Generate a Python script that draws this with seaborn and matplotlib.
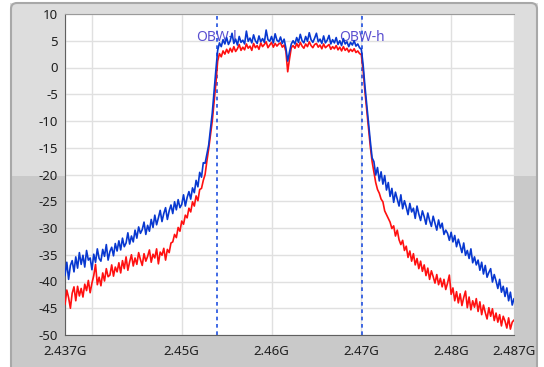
import numpy as np
import pandas as pd
import matplotlib.pyplot as plt
import seaborn as sns
from matplotlib.patches import Rectangle, FancyBboxPatch
from matplotlib.transforms import IdentityTransform

# sweep: 2.437 GHz .. 2.487 GHz, 200 kHz per bin
f_start = 2.437
f_step = 0.0002
n_bins = 251

# trace 1 (blue), dBm
blue_trace = [
    -38.9, -36.4, -39.6, -37.0, -36.1, -38.2, -35.4, -37.5, -34.6, -36.8,
    -35.1, -37.3, -34.2, -36.0, -35.6, -37.8, -34.9, -36.4, -33.9, -35.7,
    -36.2, -34.0, -35.3, -33.1, -36.0, -34.4, -33.6, -35.2, -32.9, -34.3,
    -32.4, -34.1, -31.9, -33.5, -32.8, -30.9, -33.0, -31.5, -32.6, -30.4,
    -31.9, -29.8, -31.0, -30.3, -28.9, -31.2, -29.5, -30.6, -28.4, -29.9,
    -27.6, -29.4, -28.1, -26.7, -28.8, -27.3, -26.2, -28.4, -26.8, -25.7,
    -27.3, -25.1, -26.6, -24.7, -26.2, -25.6, -23.8, -25.9, -24.3, -23.2,
    -24.6, -22.5, -23.4, -21.1, -22.3, -19.6, -20.5, -17.8, -17.9, -16.2,
    -14.5, -11.5, -8.5, -4.5, -0.5, 3.2, 4.6, 3.9, 5.2, 4.4,
    5.6, 4.3, 5.0, 6.4, 4.5, 5.3, 4.2, 5.8, 4.7, 5.1,
    4.4, 6.8, 4.9, 5.5, 4.6, 6.1, 5.0, 4.5, 5.9, 4.8,
    5.4, 4.7, 7.0, 5.2, 4.9, 5.8, 4.6, 6.3, 5.1, 4.8,
    5.7, 4.5, 5.3, 3.6, 1.2, 2.9, 4.4, 5.0, 4.4, 5.6,
    4.7, 6.2, 5.0, 4.6, 5.8, 4.9, 6.5, 5.2, 4.7, 5.5,
    6.4, 4.8, 5.3, 4.5, 5.9, 4.6, 5.1, 6.0, 4.4, 5.2,
    4.6, 5.6, 4.3, 5.0, 4.1, 5.4, 4.4, 4.8, 3.9, 4.7,
    4.2, 5.0, 4.0, 4.4, 3.7, 3.4, 0.5, -3.5, -7.0, -10.5,
    -13.8, -16.9, -17.6, -20.1, -18.7, -21.2, -19.5, -21.8, -20.2, -22.9,
    -21.5, -24.1, -22.6, -25.2, -23.3, -24.6, -25.9, -23.8, -26.4, -24.9,
    -26.1, -27.5, -25.4, -27.0, -26.3, -28.2, -25.9, -27.4, -28.6, -26.8,
    -27.9, -29.3, -27.2, -28.6, -29.7, -27.8, -29.1, -30.4, -28.5, -30.0,
    -29.1, -31.2, -30.4, -31.0, -32.3, -30.8, -32.6, -31.4, -33.5, -32.1,
    -33.3, -34.6, -32.8, -35.1, -34.2, -35.7, -33.9, -36.5, -35.4, -36.9,
    -36.0, -37.9, -36.4, -38.6, -37.0, -39.2, -38.3, -37.6, -40.1, -38.7,
    -39.9, -41.3, -39.6, -42.0, -40.9, -42.8, -41.2, -43.6, -42.0, -44.4, -43.2,
]

# trace 2 (red), dBm
red_trace = [
    -44.3, -41.6, -43.0, -45.0, -42.2, -41.0, -43.6, -40.9, -42.7, -41.3,
    -42.9, -40.5, -41.7, -39.8, -42.1, -40.3, -38.9, -36.8, -40.6, -39.2,
    -40.8, -38.4, -39.9, -37.6, -39.1, -38.8, -36.9, -39.0, -37.3, -38.2,
    -36.5, -38.4, -36.1, -37.6, -35.4, -37.9, -36.3, -35.0, -37.1, -35.6,
    -36.8, -34.6, -35.9, -37.0, -34.8, -36.2, -35.3, -34.1, -36.4, -34.9,
    -35.6, -33.9, -36.7, -34.5, -35.1, -33.8, -36.0, -34.0, -34.6, -32.8,
    -32.6, -31.2, -31.8, -29.9, -30.6, -28.7, -29.3, -27.6, -28.1, -26.3,
    -27.0, -25.1, -25.9, -24.0, -24.9, -22.8, -22.6, -21.1, -20.0, -17.5,
    -15.2, -12.6, -10.0, -6.5, -3.0, 1.2, 2.6, 2.0, 3.1, 2.5,
    3.4, 2.7, 3.6, 2.9, 3.9, 3.0, 3.5, 4.3, 3.2, 3.8,
    3.3, 4.4, 3.6, 4.0, 3.2, 4.5, 3.7, 4.1, 3.4, 4.6,
    3.9, 4.3, 4.8, 3.7, 4.2, 4.7, 3.8, 4.5, 4.0, 4.4,
    4.6, 3.8, 4.2, 3.0, -0.8, 1.6, 3.7, 4.1, 3.6, 4.5,
    3.8, 4.7, 4.0, 3.6, 4.4, 3.9, 4.8, 4.1, 3.7, 4.3,
    4.5, 3.8, 4.2, 3.5, 4.4, 3.7, 4.0, 4.3, 3.4, 3.9,
    3.5, 4.1, 3.3, 3.8, 3.1, 3.9, 3.2, 3.6, 2.9, 3.4,
    3.0, 3.5, 2.8, 3.1, 2.6, 2.4, -0.5, -4.5, -8.0, -11.5,
    -14.8, -17.6, -19.6, -21.5, -22.8, -23.5, -24.6, -25.1, -26.8, -27.5,
    -28.2, -28.9, -30.1, -29.6, -31.5, -30.4, -32.2, -33.1, -32.3, -34.2,
    -33.4, -35.5, -34.3, -36.2, -34.8, -36.9, -35.7, -37.6, -36.2, -38.1,
    -36.9, -38.9, -37.5, -39.6, -38.0, -39.1, -40.3, -38.7, -40.6, -39.4,
    -41.0, -39.6, -41.5, -40.3, -38.8, -42.4, -41.2, -43.6, -41.9, -44.0,
    -42.3, -44.5, -43.0, -41.8, -44.9, -42.9, -45.3, -43.6, -44.8, -43.2,
    -45.6, -43.8, -46.2, -44.4, -45.8, -47.0, -44.9, -46.5, -45.1, -47.3,
    -45.9, -47.6, -46.2, -48.3, -46.5, -47.4, -48.7, -46.8, -48.9, -47.6, -47.2,
]

# occupied bandwidth markers
obw_freqs = [2.4539, 2.4701]
obw_labels = ["OBW-l", "OBW-h"]

x_ticks = [2.437, 2.44, 2.45, 2.46, 2.47, 2.48, 2.487]
x_tick_labels = ["2.437G", "", "2.45G", "2.46G", "2.47G", "2.48G", "2.487G"]
y_ticks = list(range(-50, 11, 5))

freq = np.round(f_start + f_step * np.arange(n_bins), 4)
df = pd.DataFrame({"freq": freq, "blue": blue_trace, "red": red_trace})

sns.set_style("white")
plt.rcParams["font.family"] = ["Noto Sans", "DejaVu Sans"]

W, H = 544, 367
fig = plt.figure(figsize=(W / 100, H / 100), dpi=100)
fig.patch.set_facecolor("white")

# LabVIEW-like panel behind the graph (pixel coordinates, origin bottom-left)
px = IdentityTransform()
fig.patches.append(Rectangle((10, H - 176), 528, 173, facecolor="#dddddd",
                             edgecolor="none", transform=px, zorder=-10))
fig.patches.append(Rectangle((10, 0), 528, H - 176, facecolor="#c9c9c9",
                             edgecolor="none", transform=px, zorder=-10))
fig.patches.append(FancyBboxPatch((11, -10), 526, H + 7,
                                  boxstyle="round,pad=0,rounding_size=6",
                                  facecolor="none", edgecolor="#a8a8a8", lw=1.5,
                                  transform=px, zorder=-5))

ax = fig.add_axes([65 / W, 1 - 335 / H, (514 - 65) / W, (335 - 14) / H])
ax.set_facecolor("white")

sns.lineplot(data=df, x="freq", y="red", color="#ff1010", lw=1.2,
             estimator=None, ax=ax, zorder=3)
sns.lineplot(data=df, x="freq", y="blue", color="#0838d0", lw=1.2,
             estimator=None, ax=ax, zorder=4)

for fq, lab in zip(obw_freqs, obw_labels):
    ax.axvline(fq, color="#2050e0", lw=1.2, ls=(0, (2.2, 2.2)), zorder=2)
    ax.text(fq, 5.6, lab, color="#5a4fd0", fontsize=10, ha="center",
            va="center", zorder=2)

ax.set_xlim(2.437, 2.487)
ax.set_ylim(-50, 10)
ax.set_xticks(x_ticks)
ax.set_xticklabels(x_tick_labels)
ax.set_yticks(y_ticks)
ax.set_yticklabels([str(v) for v in y_ticks])
ax.set_xlabel("")
ax.set_ylabel("")
ax.grid(True, color="#e0e0e0", lw=1.0)
ax.set_axisbelow(True)

ax.tick_params(axis="both", direction="out", length=4, width=1, colors="#404040",
               labelcolor="#202020", labelsize=9.5)
ax.tick_params(axis="y", pad=1)
ax.tick_params(axis="x", pad=3)
for side in ["left", "bottom"]:
    ax.spines[side].set_color("#606060")
ax.spines["top"].set_color("#9a9a9a")
ax.spines["right"].set_visible(False)

fig.savefig("out.png", dpi=100, facecolor=fig.get_facecolor())
